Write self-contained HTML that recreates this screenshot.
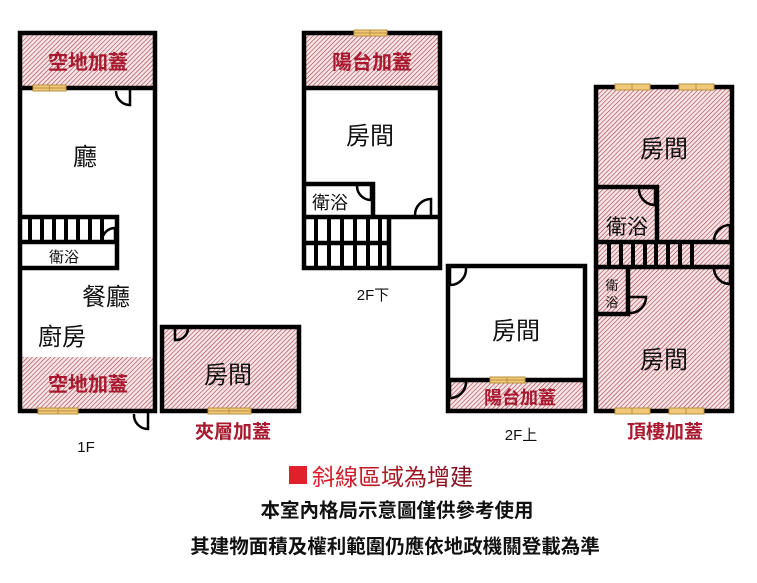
<!DOCTYPE html>
<html><head><meta charset="utf-8"><style>
html,body{margin:0;padding:0;background:#fff;width:757px;height:583px;overflow:hidden}
svg{display:block}
text{font-family:"Liberation Sans","Noto Sans CJK TC",sans-serif}
</style></head><body>
<svg width="757" height="583" viewBox="0 0 757 583" xmlns="http://www.w3.org/2000/svg">
<defs>
<pattern id="h" width="3.2" height="3.2" patternUnits="userSpaceOnUse" patternTransform="rotate(45)">
<rect width="3.2" height="3.2" fill="#f8e4e4"/>
<line x1="0" y1="0" x2="0" y2="3.2" stroke="#9a3040" stroke-width="1.1"/>
</pattern>
<linearGradient id="rg" x1="0" x2="1"><stop offset="0" stop-color="#e0202a"/><stop offset="1" stop-color="#7a1020"/></linearGradient>
</defs>
<g fill="url(#h)">
<rect x="22" y="35" width="132" height="52"/>
<rect x="22" y="357" width="132" height="52"/>
<rect x="164" y="329" width="133" height="80"/>
<rect x="306" y="35" width="132" height="52"/>
<rect x="450" y="381" width="133" height="28"/>
<rect x="598" y="89" width="132" height="320"/>
</g>
<g fill="none" stroke="#000" stroke-width="4.5">
<rect x="20" y="33" width="135" height="378"/>
<line x1="20" y1="88" x2="155" y2="88"/>
<polyline points="20,217 117,217 117,268 20,268"/>
<line x1="20" y1="242" x2="117" y2="242"/>
<rect x="162" y="327" width="137" height="84"/>
<rect x="304" y="33" width="136" height="235"/>
<line x1="304" y1="88" x2="440" y2="88"/>
<polyline points="304,184 373,184 373,216"/>
<line x1="304" y1="217" x2="440" y2="217"/>
<line x1="389" y1="217" x2="389" y2="268"/>
<line x1="304" y1="243" x2="389" y2="243"/>
<rect x="448" y="266" width="137" height="145"/>
<line x1="448" y1="380" x2="585" y2="380"/>
<rect x="596" y="87" width="136" height="324"/>
<polyline points="598,187 657,187 657,242"/>
<line x1="596" y1="242" x2="732" y2="242"/>
<line x1="596" y1="267" x2="732" y2="267"/>
<polyline points="598,314 628,314 628,267"/>
</g>
<g stroke="#000" stroke-width="4">
<line x1="30" y1="217" x2="30" y2="242"/><line x1="42" y1="217" x2="42" y2="242"/><line x1="54" y1="217" x2="54" y2="242"/><line x1="66" y1="217" x2="66" y2="242"/><line x1="78" y1="217" x2="78" y2="242"/><line x1="90" y1="217" x2="90" y2="242"/><line x1="102" y1="217" x2="102" y2="242"/>
<line x1="316" y1="217" x2="316" y2="268"/><line x1="329" y1="217" x2="329" y2="268"/><line x1="342" y1="217" x2="342" y2="268"/><line x1="355" y1="217" x2="355" y2="268"/><line x1="368" y1="217" x2="368" y2="268"/><line x1="380" y1="217" x2="380" y2="268"/>
<line x1="609" y1="242" x2="609" y2="267"/><line x1="621" y1="242" x2="621" y2="267"/><line x1="633" y1="242" x2="633" y2="267"/><line x1="645" y1="242" x2="645" y2="267"/><line x1="656" y1="242" x2="656" y2="267"/><line x1="668" y1="242" x2="668" y2="267"/><line x1="680" y1="242" x2="680" y2="267"/><line x1="692" y1="242" x2="692" y2="267"/>
</g>
<g fill="none" stroke="#000" stroke-width="2.5">
<path d="M130,90 V105 A14,14 0 0 1 116,91"/>
<path d="M115,241 V228 A13,13 0 0 0 102,241"/>
<path d="M148,413 V429 A14,14 0 0 1 134,414"/>
<path d="M175,329 V340 A12,12 0 0 0 188,329"/>
<path d="M371,186 V200 A14,14 0 0 1 357,186"/>
<path d="M431,216 V199 A16,16 0 0 0 415,215"/>
<path d="M450,268 V285 A16,16 0 0 0 466,268"/>
<path d="M450,382 V398 A16,16 0 0 0 466,382"/>
<path d="M655,189 V205 A16,16 0 0 1 639,189"/>
<path d="M730,241 V225 A16,16 0 0 0 714,241"/>
<path d="M730,268 V284 A16,16 0 0 1 714,268"/>
<path d="M630,297 H646 A16,16 0 0 1 630,313"/>
</g>
<g fill="#f0c878" stroke="#b89040" stroke-width="1">
<rect x="33" y="85" width="33" height="6"/><line x1="49.5" y1="85" x2="49.5" y2="91"/><line x1="33" y1="88" x2="66" y2="88"/>
<rect x="38" y="408" width="40" height="6"/><line x1="58" y1="408" x2="58" y2="414"/><line x1="38" y1="411" x2="78" y2="411"/>
<rect x="208" y="408" width="43" height="6"/><line x1="229" y1="408" x2="229" y2="414"/><line x1="208" y1="411" x2="251" y2="411"/>
<rect x="354" y="30" width="33" height="6"/><line x1="370" y1="30" x2="370" y2="36"/><line x1="354" y1="33" x2="387" y2="33"/>
<rect x="490" y="377" width="35" height="6"/><line x1="507" y1="377" x2="507" y2="383"/><line x1="490" y1="380" x2="525" y2="380"/>
<rect x="615" y="84" width="35" height="6"/><line x1="632" y1="84" x2="632" y2="90"/>
<rect x="679" y="84" width="35" height="6"/><line x1="696" y1="84" x2="696" y2="90"/>
<rect x="615" y="408" width="35" height="6"/><line x1="632" y1="408" x2="632" y2="414"/>
<rect x="669" y="408" width="35" height="6"/><line x1="686" y1="408" x2="686" y2="414"/>
</g>
<g fill="#a8182e" font-size="20" text-anchor="middle" font-weight="bold">
<text x="88" y="69">空地加蓋</text>
<text x="88" y="391">空地加蓋</text>
<text x="372" y="69">陽台加蓋</text>
<text x="520" y="404" font-size="18">陽台加蓋</text>
</g>
<g fill="#a8182e" font-size="19" text-anchor="middle" font-weight="bold">
<text x="233" y="438">夾層加蓋</text>
<text x="665" y="438">頂樓加蓋</text>
</g>
<g fill="#111" font-size="24" text-anchor="middle">
<text x="85" y="165">廳</text>
<text x="106" y="305">餐廳</text>
<text x="62" y="345">廚房</text>
<text x="228" y="383">房間</text>
<text x="370" y="144">房間</text>
<text x="516" y="339">房間</text>
<text x="664" y="157">房間</text>
<text x="664" y="368">房間</text>
<text x="627" y="234" font-size="21">衛浴</text>
</g>
<g fill="#111" font-size="15" text-anchor="middle">
<text x="64" y="262">衛浴</text>
<text x="330" y="209" font-size="18">衛浴</text>
<text x="612" y="290" font-size="13">衛</text>
<text x="612" y="307" font-size="13">浴</text>
<text x="86" y="452">1F</text>
<text x="373" y="300">2F下</text>
<text x="521" y="440">2F上</text>
</g>
<rect x="289" y="466" width="18" height="18" fill="#e0202a"/>
<text x="312" y="485" font-size="23" fill="url(#rg)">斜線區域為增建</text>
<text x="397" y="517" font-size="19.5" font-weight="bold" text-anchor="middle" fill="#111">本室內格局示意圖僅供參考使用</text>
<text x="395" y="553" font-size="19.5" font-weight="bold" text-anchor="middle" fill="#111">其建物面積及權利範圍仍應依地政機關登載為準</text>
</svg>
</body></html>
